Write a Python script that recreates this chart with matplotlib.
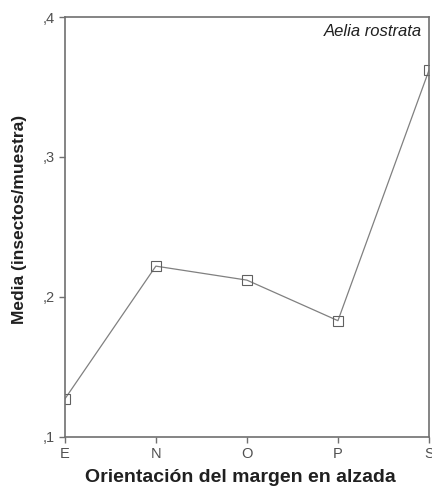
import matplotlib
matplotlib.use("Agg")
import matplotlib.pyplot as plt
from matplotlib.ticker import FuncFormatter

plt.rcParams['font.family'] = ['Liberation Sans', 'DejaVu Sans']

# Data
orientations = ["E", "N", "O", "P", "S"]
means = [0.127, 0.222, 0.212, 0.183, 0.362]
y_ticks = [0.1, 0.2, 0.3, 0.4]

fig = plt.figure(figsize=(4.32, 4.87), dpi=100)
ax = fig.add_axes([0.150, 0.103, 0.843, 0.862])

x = list(range(len(orientations)))
ax.plot(x, means, color="#808080", linewidth=0.9, marker="s", markersize=6.5,
        markerfacecolor="none", markeredgecolor="#606060", markeredgewidth=0.8)

ax.set_xlim(0, len(orientations) - 1)
ax.set_ylim(0.1, 0.4)
ax.set_xticks(x)
ax.set_xticklabels(orientations)
ax.set_yticks(y_ticks)
ax.yaxis.set_major_formatter(FuncFormatter(lambda v, p: ("%.1f" % v).replace("0.", ",")))

for s in ax.spines.values():
    s.set_color("#707070")
    s.set_linewidth(1.2)
ax.tick_params(axis="both", colors="#707070", labelcolor="#505050", labelsize=10.5,
               length=4, width=1, direction="out")

ax.text(0.98, 0.983, "Aelia rostrata", transform=ax.transAxes, ha="right", va="top",
        style="italic", fontsize=12, color="#202020")

ax.set_xlabel("Orientación del margen en alzada", fontsize=14, fontweight="bold",
              color="#202020")
ax.xaxis.set_label_coords(0.482, -0.077)
ax.set_ylabel("Media (insectos/muestra)", fontsize=12.5, fontweight="bold",
              color="#202020")
ax.yaxis.set_label_coords(-0.104, 0.517)

fig.savefig("out.png", dpi=100)
